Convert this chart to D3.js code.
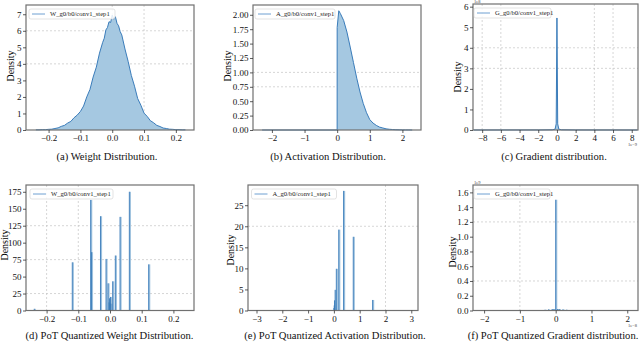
<!DOCTYPE html>
<html>
<head>
<meta charset="utf-8">
<script src="https://cdn.jsdelivr.net/npm/d3@7"></script>
<style>
  body { margin: 0; background: #fff; }
  svg { display: block; }
  text { font-family: "Liberation Serif", "DejaVu Serif", serif; }
</style>
</head>
<body>
<svg id="fig" width="640" height="344"></svg>
<script>
// ---- data ----
// (a) weight histogram
var w_x = [-0.24, -0.23, -0.22, -0.21, -0.20, -0.19, -0.18, -0.17, -0.16, -0.15, -0.14, -0.13, -0.12, -0.11,
    -0.10, -0.09, -0.08, -0.07, -0.06, -0.05, -0.04, -0.03, -0.025, -0.02, -0.015, -0.01, -0.005, 0.00, 0.005,
    0.01, 0.015, 0.02, 0.025, 0.03, 0.04, 0.05,
    0.06, 0.07, 0.08, 0.09, 0.10, 0.11, 0.12, 0.13, 0.14, 0.15, 0.16, 0.17, 0.18, 0.19, 0.20, 0.21, 0.22, 0.23]
var w_y = [0.01, 0.01, 0.02, 0.02, 0.04, 0.05, 0.09, 0.13, 0.22, 0.28, 0.42, 0.52, 0.74, 0.9,
    1.12, 1.45, 2.0, 2.45, 3.2, 3.8, 4.65, 5.3, 5.55, 6.05, 6.2, 6.55, 6.5, 6.95, 6.7,
    6.85, 6.45, 6.3, 5.95, 5.75, 4.9, 4.15,
    3.3, 2.65, 1.9, 1.5, 1.02, 0.82, 0.56, 0.44, 0.28, 0.21, 0.12, 0.09, 0.05, 0.04, 0.02, 0.02, 0.01, 0.01]
// (b) activation histogram
var a_x = [-2.3, -0.001, 0.0, 0.05, 0.1, 0.2, 0.3, 0.4, 0.5, 0.6, 0.7, 0.8, 0.9, 1.0, 1.1, 1.2, 1.3, 1.4, 1.5,
    1.6, 1.7, 1.8, 1.9, 2.0, 2.1, 2.2, 2.3]
var a_y = [0, 0, 1.78, 2.07, 2.02, 1.9, 1.7, 1.44, 1.17, 0.9, 0.66, 0.46, 0.3, 0.18, 0.12, 0.08, 0.05, 0.035, 0.02,
    0.013, 0.008, 0.005, 0.003, 0.002, 0.001, 0.001, 0]
// (c) gradient histogram (x in 1e-9)
var g_x = [-8.9, -2, -0.5, -0.2, -0.08, 0, 0.08, 0.2, 0.5, 2, 8.6]
var g_y = [0, 0.003, 0.01, 0.04, 0.3, 5.45, 0.3, 0.04, 0.01, 0.003, 0]
// (d) PoT quantized weights
var qw_x = [-0.239, -0.119, -0.061, -0.0585, -0.030, -0.0126, -0.0063, -0.003, -0.0015, 0.0, 0.0015, 0.003,
    0.0084, 0.0168, 0.0316, 0.061, 0.122]
var qw_h = [2.5, 71, 163, 86, 139, 76, 40, 12, 18, 10, 20, 10, 43, 81, 138, 175, 68]
// (e) PoT quantized activations
var qa_x = [0.0, 0.012, 0.023, 0.047, 0.094, 0.1875, 0.375, 0.75, 1.5]
var qa_h = [0.6, 1.2, 2.4, 4.9, 9.9, 19.2, 28.4, 17.5, 2.5]
// (f) PoT quantized gradients (x in 1e-8)
var qg_x = [-0.3, -0.2, -0.1, -0.05, 0.0, 0.05, 0.1, 0.2, 0.3]
var qg_h = [0.01, 0.015, 0.02, 0.02, 1.5, 0.02, 0.02, 0.015, 0.01]

// ticks
var ticks_w = [-0.2, -0.1, 0.0, 0.1, 0.2]
var ticks_w_lab = ["\u22120.2", "\u22120.1", "0.0", "0.1", "0.2"]
var ticks_a = [-2, -1, 0, 1, 2]
var ticks_g = [-8, -6, -4, -2, 0, 2, 4, 6, 8]
var ticks_qa = [-3, -2, -1, 0, 1, 2, 3]
var yt_w = [0, 1, 2, 3, 4, 5, 6, 7]
var yt_a = [0, 0.25, 0.5, 0.75, 1.0, 1.25, 1.5, 1.75, 2.0]
var yt_g = [0, 1, 2, 3, 4, 5, 6]
var yt_qw = [0, 25, 50, 75, 100, 125, 150, 175]
var yt_qa = [0, 5, 10, 15, 20, 25]
var yt_qg = [0, 0.2, 0.4, 0.6, 0.8, 1.0, 1.2, 1.4, 1.6]

var captions = ["(a) Weight Distribution.", "(b) Activation Distribution.", "(c) Gradient distribution.",
    "(d) PoT Quantized Weight Distribution.", "(e) PoT Quantized Activation Distribution.",
    "(f) PoT Quantized Gradient distribution."]
var legends = ["W_g0/b0/conv1_step1", "A_g0/b0/conv1_step1", "G_g0/b0/conv1_step1",
    "W_g0/b0/conv1_step1", "A_g0/b0/conv1_step1", "G_g0/b0/conv1_step1"]

var fill_c = "#a5c8e1"
var line_c = "#3a7cba"
var minus = function (s) { return String(s).replace("-", "\u2212") }

var svg = d3.select("#fig")

function draw_panel(p) {
    var g = svg.append("g")
    var x = d3.scaleLinear().domain(p.xd).range([p.l, p.r])
    var y = d3.scaleLinear().domain(p.yd).range([p.b, p.t])

    // dashed grid (only some lines show in the original)
    g.selectAll(".gx").data(p.gx).enter().append("line")
        .attr("x1", function (d) { return x(d) }).attr("x2", function (d) { return x(d) })
        .attr("y1", p.t).attr("y2", p.b)
        .attr("stroke", "#c4c4c4").attr("stroke-width", 0.7).attr("stroke-dasharray", "2,2")
    g.selectAll(".gy").data(p.gy).enter().append("line")
        .attr("y1", function (d) { return y(d) }).attr("y2", function (d) { return y(d) })
        .attr("x1", p.l).attr("x2", p.r)
        .attr("stroke", "#c4c4c4").attr("stroke-width", 0.7).attr("stroke-dasharray", "2,2")

    if (p.kind == "area") {
        var pts = p.xs.map(function (v, i) { return [v, p.ys[i]] })
        g.append("path").datum(pts)
            .attr("d", d3.area().x(function (d) { return x(d[0]) }).y0(y(0)).y1(function (d) { return y(d[1]) }))
            .attr("fill", fill_c)
        g.append("path").datum(pts)
            .attr("d", d3.line().x(function (d) { return x(d[0]) }).y(function (d) { return y(d[1]) }))
            .attr("fill", "none").attr("stroke", line_c).attr("stroke-width", 1)
    } else {
        var bars = p.xs.map(function (v, i) { return { x: v, h: p.ys[i] } })
        g.selectAll(".bar").data(bars).enter().append("rect")
            .attr("x", function (d) { return x(d.x) })
            .attr("y", function (d) { return y(d.h) })
            .attr("width", 1.6)
            .attr("height", function (d) { return y(0) - y(d.h) })
            .attr("fill", "#9dc1de")
        g.selectAll(".edge").data(bars).enter().append("line")
            .attr("x1", function (d) { return x(d.x) }).attr("x2", function (d) { return x(d.x) })
            .attr("y1", y(0)).attr("y2", function (d) { return y(d.h) })
            .attr("stroke", line_c).attr("stroke-width", 0.9)
    }

    // frame
    g.append("rect").attr("x", p.l).attr("y", p.t).attr("width", p.r - p.l).attr("height", p.b - p.t)
        .attr("fill", "none").attr("stroke", "#707070").attr("stroke-width", 1.2)

    var xa = g.append("g").attr("transform", "translate(0," + p.b + ")")
        .call(d3.axisBottom(x).tickValues(p.xt).tickSize(3).tickPadding(2)
            .tickFormat(function (d, i) { return p.xl ? p.xl[i] : minus(d) }))
    var ya = g.append("g").attr("transform", "translate(" + p.l + ",0)")
        .call(d3.axisLeft(y).tickValues(p.yt).tickSize(3).tickPadding(1.5)
            .tickFormat(p.yf))
    ;[xa, ya].forEach(function (a) {
        a.select(".domain").remove()
        a.selectAll("line").attr("stroke", "#333").attr("stroke-width", 0.8)
        a.selectAll("text").attr("font-size", "9px").attr("fill", "#111")
            .style("font-family", "'Liberation Serif', serif")
    })

    // y label
    g.append("text").attr("transform", "translate(" + p.ylx + "," + p.yly + ") rotate(-90)")
        .attr("text-anchor", "middle").attr("dominant-baseline", "central")
        .attr("font-size", "10px").text("Density")

    // legend
    var lg = g.append("g").attr("transform", "translate(" + (p.l + p.lgx) + "," + (p.t + 4) + ")")
    lg.append("rect").attr("width", p.lgw).attr("height", 10).attr("rx", 2)
        .attr("fill", "#fff").attr("fill-opacity", 0.85).attr("stroke", "#d0d0d0").attr("stroke-width", 0.6)
    lg.append("line").attr("x1", 3).attr("x2", 16).attr("y1", 5).attr("y2", 5)
        .attr("stroke", "#6fa0d2").attr("stroke-width", 1)
    lg.append("text").attr("x", 21).attr("y", 7.4).attr("font-size", "6.6px").attr("fill", "#222").text(p.leg)

    // exponent labels
    if (p.e1) {
        g.append("text").attr("x", p.l + 1).attr("y", p.t - 1).attr("font-size", "4.5px").attr("fill", "#444").text(p.e1)
        g.append("text").attr("x", p.r - 1).attr("y", p.b + 16).attr("text-anchor", "end")
            .attr("font-size", "4.5px").attr("fill", "#444").text(p.e2)
    }

    // caption
    svg.append("text").attr("x", p.cx).attr("y", p.cy).attr("text-anchor", "middle")
        .attr("font-size", "10.6px").attr("fill", "#111").text(p.cap)
}

var f2 = function (d) { return d3.format(".2f")(d) }
var f1 = function (d) { return d3.format(".1f")(d) }
var f0 = function (d) { return String(d) }

draw_panel({ kind: "area", xs: w_x, ys: w_y, l: 26, r: 194, t: 5, b: 130, xd: [-0.271, 0.257], yd: [0, 7.56],
    xt: ticks_w, xl: ticks_w_lab, yt: yt_w, yf: f0, gx: [0.0, 0.1], gy: [4, 6],
    ylx: 10.5, yly: 66, lgx: 3, lgw: 86, leg: legends[0], cx: 107, cy: 160, cap: captions[0] })
draw_panel({ kind: "area", xs: a_x, ys: a_y, l: 253, r: 421, t: 5, b: 130, xd: [-2.58, 2.57], yd: [0, 2.17],
    xt: ticks_a, yt: yt_a, yf: f2, gx: [], gy: [0.75, 1.0],
    ylx: 227, yly: 66, lgx: 2, lgw: 80, leg: legends[1], cx: 328, cy: 160, cap: captions[1] })
draw_panel({ kind: "area", xs: g_x, ys: g_y, l: 473, r: 638, t: 4, b: 130, xd: [-8.98, 8.67], yd: [0, 6.13],
    xt: ticks_g, yt: yt_g, yf: f0, gx: [-8, -6, 4, 6], gy: [3, 4],
    ylx: 457, yly: 77, lgx: 1, lgw: 77, leg: legends[2], cx: 554, cy: 160, cap: captions[2],
    e1: "1e8", e2: "1e\u22129" })
draw_panel({ kind: "bars", xs: qw_x, ys: qw_h, l: 26, r: 194, t: 185, b: 310.5, xd: [-0.265, 0.265], yd: [0, 185],
    xt: ticks_w, xl: ticks_w_lab, yt: yt_qw, yf: f0, gx: [-0.2, -0.1], gy: [25, 75, 125],
    ylx: 4, yly: 245, lgx: 4, lgw: 83, leg: legends[3], cx: 109.5, cy: 339, cap: captions[3] })
draw_panel({ kind: "bars", xs: qa_x, ys: qa_h, l: 248, r: 418, t: 185, b: 310.5, xd: [-3.33, 3.26], yd: [0, 29.8],
    xt: ticks_qa, yt: yt_qa, yf: f0, gx: [2], gy: [20],
    ylx: 230, yly: 250, lgx: 3.5, lgw: 85, leg: legends[4], cx: 335, cy: 339, cap: captions[4] })
draw_panel({ kind: "bars", xs: qg_x, ys: qg_h, l: 473, r: 638, t: 185, b: 310.5, xd: [-2.31, 2.30], yd: [0, 1.70],
    xt: ticks_a, yt: yt_qg, yf: f1, gx: [-1], gy: [0.4, 1.2],
    ylx: 452, yly: 252, lgx: 1, lgw: 76, leg: legends[5], cx: 553, cy: 339, cap: captions[5],
    e1: "1e9", e2: "1e\u22128" })
</script>
</body>
</html>
